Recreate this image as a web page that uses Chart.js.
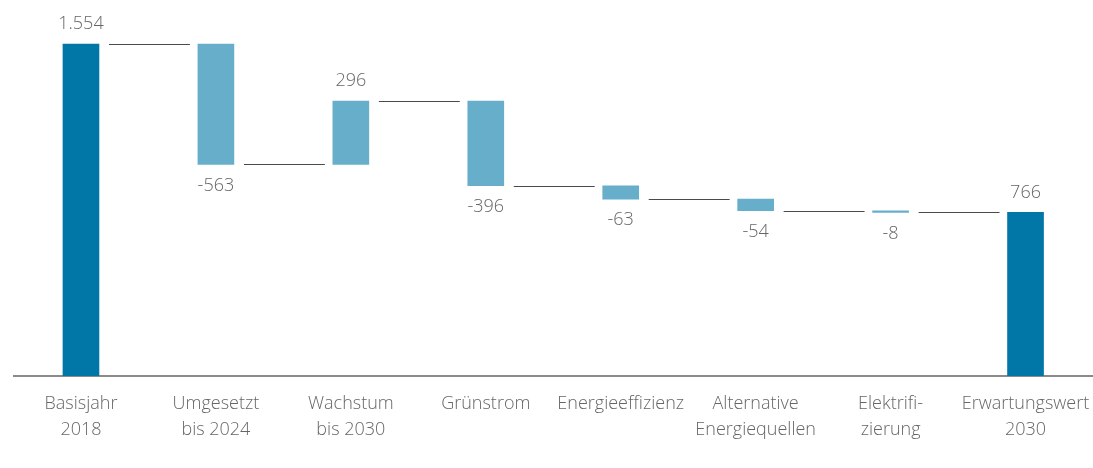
<!DOCTYPE html>
<html>
<head>
<meta charset="utf-8">
<script src="https://cdn.jsdelivr.net/npm/chart.js@4"></script>
<style>
  html, body { margin: 0; padding: 0; background: #fff; overflow: hidden; }
  #wrap { width: 1093px; height: 468px; }
</style>
</head>
<body>
<div id="wrap"><canvas id="chart"></canvas></div>
<script>
const categories = [
    ['Basisjahr', '2018'],
    ['Umgesetzt', 'bis 2024'],
    ['Wachstum', 'bis 2030'],
    'Grünstrom',
    'Energieeffizienz',
    ['Alternative', 'Energiequellen'],
    ['Elektrifi-', 'zierung'],
    ['Erwartungswert', '2030']
];
const values = [1554, -563, 296, -396, -63, -54, -8, 766];
const isTotal = [true, false, false, false, false, false, false, true];
const valueLabels = ['1.554', '-563', '296', '-396', '-63', '-54', '-8', '766'];

const totalColor = '#0077a7';
const stepColor = '#67aecb';
const textColor = '#666666';
const fontFamily = "'Open Sans', 'Noto Sans', sans-serif";

// build floating ranges for the waterfall
let running = 0;
const ranges = values.map((v, i) => {
    if (isTotal[i]) {
        running = v;
        return [0, v];
    }
    const start = running;
    running += v;
    return [start, running];
});
const ends = ranges.map(r => r[1]);

const waterfallPlugin = {
    id: 'waterfall',
    afterDatasetsDraw(chart) {
        const ctx = chart.ctx;
        const meta = chart.getDatasetMeta(0);
        const yScale = chart.scales.y;
        ctx.save();

        // connectors
        ctx.strokeStyle = '#4a4a4a';
        ctx.lineWidth = 1;
        for (let i = 0; i < meta.data.length - 1; i++) {
            const a = meta.data[i];
            const b = meta.data[i + 1];
            const y = Math.round(yScale.getPixelForValue(ends[i])) + 0.5;
            ctx.beginPath();
            ctx.moveTo(a.x + a.width / 2 + 10, y);
            ctx.lineTo(b.x - b.width / 2 - 8, y);
            ctx.stroke();
        }

        // value labels
        ctx.fillStyle = textColor;
        ctx.font = '300 18px ' + fontFamily;
        ctx.textAlign = 'center';
        meta.data.forEach((bar, i) => {
            const top = Math.min(bar.y, bar.base);
            const bottom = Math.max(bar.y, bar.base);
            if (values[i] < 0) {
                ctx.textBaseline = 'top';
                ctx.fillText(valueLabels[i], bar.x, bottom + 12);
            } else {
                ctx.textBaseline = 'bottom';
                ctx.fillText(valueLabels[i], bar.x, top - 11);
            }
        });
        ctx.restore();
    }
};

new Chart(document.getElementById('chart'), {
    type: 'bar',
    data: {
        labels: categories,
        datasets: [{
            data: ranges,
            backgroundColor: values.map((v, i) => isTotal[i] ? totalColor : stepColor),
            borderWidth: 0,
            borderSkipped: false,
            barThickness: 36
        }]
    },
    options: {
        responsive: true,
        maintainAspectRatio: false,
        animation: false,
        layout: { padding: { left: 13.5, right: 0, top: 13, bottom: 0 } },
        plugins: {
            legend: { display: false },
            tooltip: { enabled: false }
        },
        scales: {
            x: {
                grid: { display: false, drawTicks: false },
                border: { display: true, color: '#8a8a8a', width: 2 },
                ticks: {
                    color: textColor,
                    padding: 15,
                    maxRotation: 0,
                    autoSkip: false,
                    font: { family: fontFamily, size: 18, weight: 300, lineHeight: 1.45 }
                },
                afterFit: (scale) => {
                    scale.height = 92;
                    scale.paddingLeft = 0;
                    scale.paddingRight = 0;
                }
            },
            y: {
                display: false,
                min: 0,
                max: 1700
            }
        }
    },
    plugins: [waterfallPlugin]
});
</script>
</body>
</html>
